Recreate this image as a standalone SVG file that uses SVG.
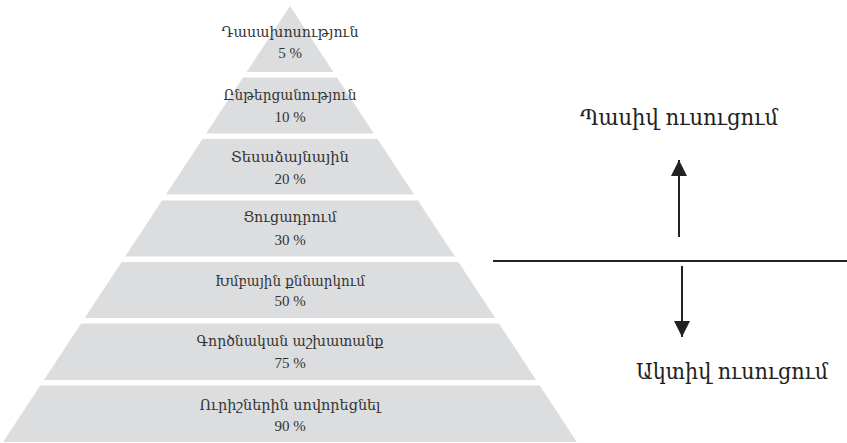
<svg xmlns="http://www.w3.org/2000/svg" width="847" height="443" viewBox="0 0 847 443">
<style>
.layer{fill:#dcdddf;}
.t{font-family:"DejaVu Serif","Liberation Serif",serif;font-size:15.5px;fill:#333;text-anchor:middle;}
.p{font-family:"Liberation Serif","DejaVu Serif",serif;font-size:15px;fill:#333;text-anchor:middle;}
.big{font-family:"DejaVu Serif","Liberation Serif",serif;font-size:22px;fill:#222;}
.ln{stroke:#222;stroke-width:2;fill:none;}
</style>
<defs>
<marker id="ah" markerWidth="16" markerHeight="16" viewBox="0 0 16 16" refX="16" refY="8" orient="auto" markerUnits="userSpaceOnUse">
<path d="M0,0 L16,8 L0,16 Z" fill="#222"/>
</marker>
</defs>
<g id="layer1">
<polygon class="layer" points="290,6 333.4,72 246.6,72"/>
<text class="t" x="290" y="36.5" textLength="137" lengthAdjust="spacingAndGlyphs">Դասախոսություն</text>
<text class="p" x="290" y="58">5 %</text>
</g>
<g id="layer2">
<polygon class="layer" points="243,77.5 337,77.5 373.9,133.5 206.1,133.5"/>
<text class="t" x="290" y="100" textLength="133" lengthAdjust="spacingAndGlyphs">Ընթերցանություն</text>
<text class="p" x="290" y="122">10 %</text>
</g>
<g id="layer3">
<polygon class="layer" points="202.5,139 377.5,139 414,194.5 166,194.5"/>
<text class="t" x="290" y="161.5" textLength="118" lengthAdjust="spacingAndGlyphs">Տեսաձայնային</text>
<text class="p" x="290" y="183.5">20 %</text>
</g>
<g id="layer4">
<polygon class="layer" points="162,200.5 418,200.5 454.8,256.5 125.2,256.5"/>
<text class="t" x="290" y="222" textLength="93" lengthAdjust="spacingAndGlyphs">Ցուցադրում</text>
<text class="p" x="290" y="245">30 %</text>
</g>
<g id="layer5">
<polygon class="layer" points="121.6,262 458.4,262 495.3,318 84.7,318"/>
<text class="t" x="290" y="286" textLength="150" lengthAdjust="spacingAndGlyphs">Խմբային քննարկում</text>
<text class="p" x="290" y="306">50 %</text>
</g>
<g id="layer6">
<polygon class="layer" points="81.1,323.5 498.9,323.5 536.1,380 43.9,380"/>
<text class="t" x="290" y="346" textLength="187" lengthAdjust="spacingAndGlyphs">Գործնական աշխատանք</text>
<text class="p" x="290" y="368">75 %</text>
</g>
<g id="layer7">
<polygon class="layer" points="40.3,385.5 539.7,385.5 576.9,442 3.1,442"/>
<text class="t" x="290" y="410" textLength="181" lengthAdjust="spacingAndGlyphs">Ուրիշներին սովորեցնել</text>
<text class="p" x="290" y="431">90 %</text>
</g>
<g id="passive">
<text class="big" x="580" y="125" textLength="198" lengthAdjust="spacingAndGlyphs">Պասիվ ուսուցում</text>
</g>
<g id="active">
<text class="big" x="636" y="379" textLength="192" lengthAdjust="spacingAndGlyphs">Ակտիվ ուսուցում</text>
</g>
<g id="connectors">
<line class="ln" x1="493" y1="261" x2="847" y2="261"/>
<line class="ln" x1="679" y1="237" x2="679" y2="160" marker-end="url(#ah)"/>
<line class="ln" x1="682" y1="266" x2="682" y2="337" marker-end="url(#ah)"/>
</g>
</svg>
